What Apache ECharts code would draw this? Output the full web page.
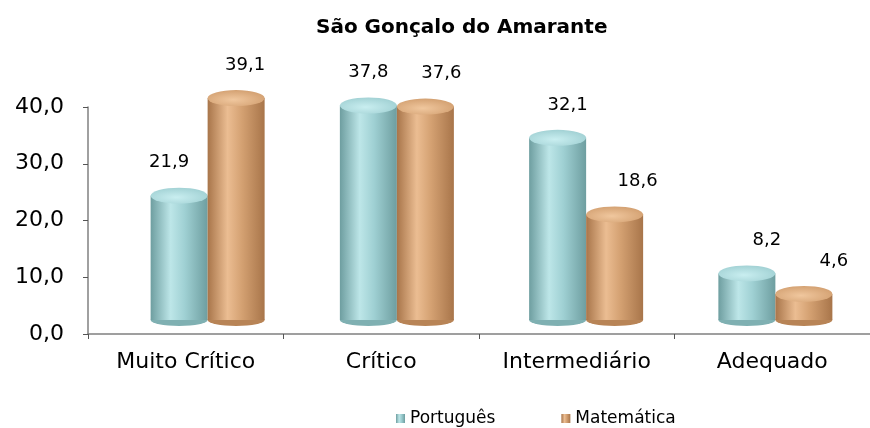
<!DOCTYPE html>
<html style="height: 100%">
<head>
    <meta charset="utf-8">
    <script src="https://cdn.jsdelivr.net/npm/echarts@6/dist/echarts.min.js"></script>
</head>
<body style="height: 100%; margin: 0; background: #fff">
<div id="container" style="width: 870px; height: 428px"></div>
<script type="text/javascript">
    // dados
    var categorias = ['Muito Crítico', 'Crítico', 'Intermediário', 'Adequado'];
    var portugues = [21.9, 37.8, 32.1, 8.2];
    var matematica = [39.1, 37.6, 18.6, 4.6];
    var yTicks = [0, 10, 20, 30, 40];

    var fonte = 'DejaVu Sans, sans-serif';

    function cilindro(c0, c1, c2) {
        return new echarts.graphic.LinearGradient(0, 0, 1, 0, [
            {offset: 0, color: c0},
            {offset: 0.35, color: c1},
            {offset: 0.6, color: c2},
            {offset: 1, color: c0}
        ]);
    }
    function tampa(c0, c1) {
        return new echarts.graphic.RadialGradient(0.45, 0.6, 0.7, [
            {offset: 0, color: c1},
            {offset: 1, color: c0}
        ]);
    }

    var corPt = cilindro('#6e9ea0', '#bde6e8', '#9fd0d3');
    var corMt = cilindro('#a8754a', '#ebbd92', '#d4a172');
    var topoPt = tampa('#9ccdd0', '#c9eef0');
    var topoMt = tampa('#cf9b6b', '#f0c79e');

    var dom = document.getElementById("container");
    var myChart = echarts.init(dom);

    function fmt(v) { return v.toFixed(1).replace('.', ','); }

    // rótulos deslocados como na perspectiva do gráfico 3D
    function comRotulo(valores, dx0, passo) {
        return valores.map(function (v, i) {
            return {
                value: v,
                label: {
                    show: true,
                    position: 'top',
                    distance: 24,
                    offset: [dx0 + passo * i, 0],
                    color: '#000',
                    fontFamily: fonte,
                    fontSize: 18,
                    formatter: function (p) { return fmt(p.value); }
                }
            };
        });
    }

    var option = {
        animation: false,
        title: {
            text: 'São Gonçalo do Amarante',
            left: 311,
            top: 13,
            textStyle: {fontFamily: fonte, fontSize: 20, fontWeight: 'bold', color: '#000'}
        },
        legend: {
            data: ['Português', 'Matemática'],
            left: 391,
            top: 405,
            itemWidth: 9,
            itemHeight: 9,
            itemGap: 66,
            icon: 'rect',
            textStyle: {fontFamily: fonte, fontSize: 17, color: '#000'}
        },
        grid: [
            {left: 88, top: 107, width: 782, height: 227},
            {left: 113, top: 93, width: 782, height: 227}
        ],
        xAxis: [
            {
                type: 'category', gridIndex: 0, data: categorias,
                axisLine: {lineStyle: {color: '#808080', width: 1.5}},
                axisTick: {show: true, length: 5, lineStyle: {color: '#555'}},
                axisLabel: {fontFamily: fonte, fontSize: 22, color: '#000', margin: 17}
            },
            {
                type: 'category', gridIndex: 1, data: categorias,
                axisLine: {show: false}, axisTick: {show: false}, axisLabel: {show: false}
            }
        ],
        yAxis: [
            {
                type: 'value', gridIndex: 0, min: yTicks[0], max: yTicks[yTicks.length - 1], interval: 10,
                splitLine: {show: false},
                axisLine: {show: true, lineStyle: {color: '#808080', width: 1.5}},
                axisTick: {show: true, length: 5, lineStyle: {color: '#555'}},
                axisLabel: {fontFamily: fonte, fontSize: 22, color: '#000', margin: 24, formatter: fmt}
            },
            {
                type: 'value', gridIndex: 1, min: yTicks[0], max: yTicks[yTicks.length - 1], interval: 10,
                show: false, splitLine: {show: false}
            }
        ],
        series: [
            {
                name: 'base pt', type: 'pictorialBar', xAxisIndex: 1, yAxisIndex: 1,
                data: portugues, symbol: 'circle', symbolSize: [57, 12],
                symbolOffset: ['-50%', '50%'], itemStyle: {color: '#7fb0b2'}, z: 1
            },
            {
                name: 'Português', type: 'bar', xAxisIndex: 1, yAxisIndex: 1,
                data: comRotulo(portugues, -10, 10), barWidth: 57, barGap: '0%',
                itemStyle: {color: corPt}, z: 2
            },
            {
                name: 'topo pt', type: 'pictorialBar', xAxisIndex: 1, yAxisIndex: 1,
                data: portugues, symbol: 'circle', symbolSize: [57, 16], symbolPosition: 'end',
                symbolOffset: ['-50%', '-50%'], itemStyle: {color: topoPt}, z: 3
            },
            {
                name: 'base mt', type: 'pictorialBar', xAxisIndex: 1, yAxisIndex: 1,
                data: matematica, symbol: 'circle', symbolSize: [57, 12],
                symbolOffset: ['50%', '50%'], itemStyle: {color: '#b88456'}, z: 4
            },
            {
                name: 'Matemática', type: 'bar', xAxisIndex: 1, yAxisIndex: 1,
                data: comRotulo(matematica, 9, 7), barWidth: 57, barGap: '0%',
                itemStyle: {color: corMt}, z: 5
            },
            {
                name: 'topo mt', type: 'pictorialBar', xAxisIndex: 1, yAxisIndex: 1,
                data: matematica, symbol: 'circle', symbolSize: [57, 16], symbolPosition: 'end',
                symbolOffset: ['50%', '-50%'], itemStyle: {color: topoMt}, z: 6
            }
        ]
    };

    myChart.setOption(option, true);
</script>
</body>
</html>
